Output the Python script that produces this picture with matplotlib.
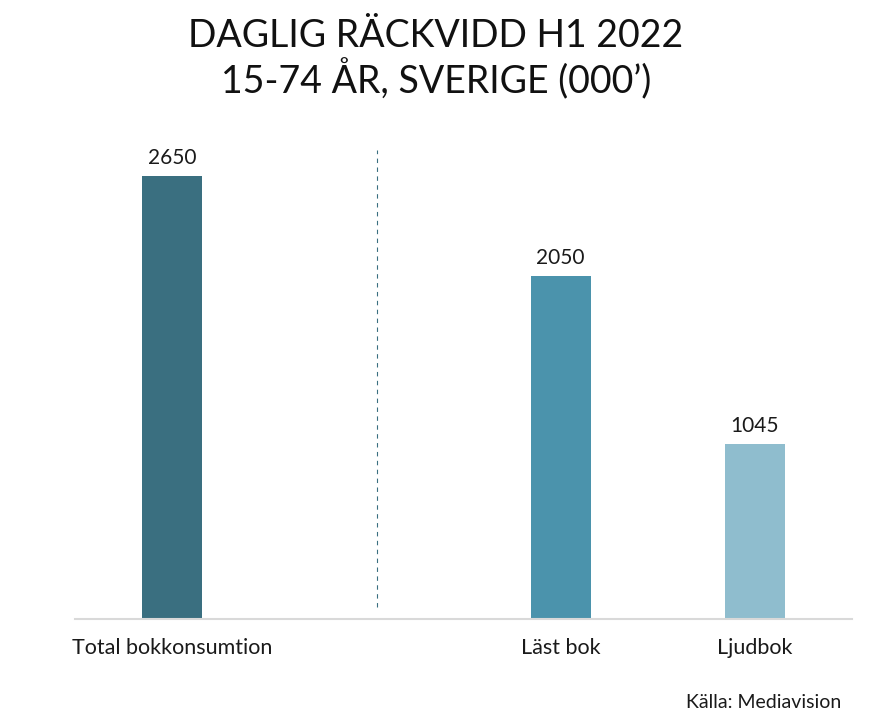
import numpy as np
import matplotlib
matplotlib.use('Agg')
import matplotlib.pyplot as plt

plt.rcParams['font.family'] = ['Lato', 'DejaVu Sans']

categories = ['Total bokkonsumtion', '', 'Läst bok', 'Ljudbok']
values = [2650, None, 2050, 1045]
colors = ['#3a6f80', None, '#4b93ac', '#8fbdce']

fig = plt.figure(figsize=(8.72, 7.26), dpi=100)
ax = fig.add_axes([75 / 872, 1 - 619 / 726, 777 / 872, 469 / 726])

x = np.arange(len(categories))
for i, v in enumerate(values):
    if v is None:
        continue
    ax.bar(x[i], v, width=0.31, color=colors[i])
    ax.text(x[i], v + 50, str(v), ha='center', va='bottom', fontsize=15, color='#1a1a1a')

ax.set_xlim(-0.5, 3.5)
ax.set_ylim(0, 2805)
ax.axvline(1.055, ymin=0.026, ymax=1, color='#3a6f80', linestyle=(0, (4, 4)), linewidth=0.8)

ax.set_xticks(x)
ax.set_xticklabels(categories, fontsize=15.5, color='#1a1a1a')
ax.tick_params(axis='x', length=0, pad=14)
ax.set_yticks([])
for s in ['top', 'right', 'left']:
    ax.spines[s].set_visible(False)
ax.spines['bottom'].set_color('#d9d9d9')
ax.spines['bottom'].set_linewidth(1.5)

fig.text(0.5, 1 - 36 / 726, 'DAGLIG RÄCKVIDD H1 2022', ha='center', va='center', fontsize=27, color='#111111')
fig.text(0.5, 1 - 79 / 726, '15-74 ÅR, SVERIGE (000’)', ha='center', va='center', fontsize=27, color='#111111')
fig.text(841 / 872, 1 - 703 / 726, 'Källa: Mediavision', ha='right', va='center', fontsize=14, color='#1a1a1a')

fig.savefig('out.png', dpi=100)
